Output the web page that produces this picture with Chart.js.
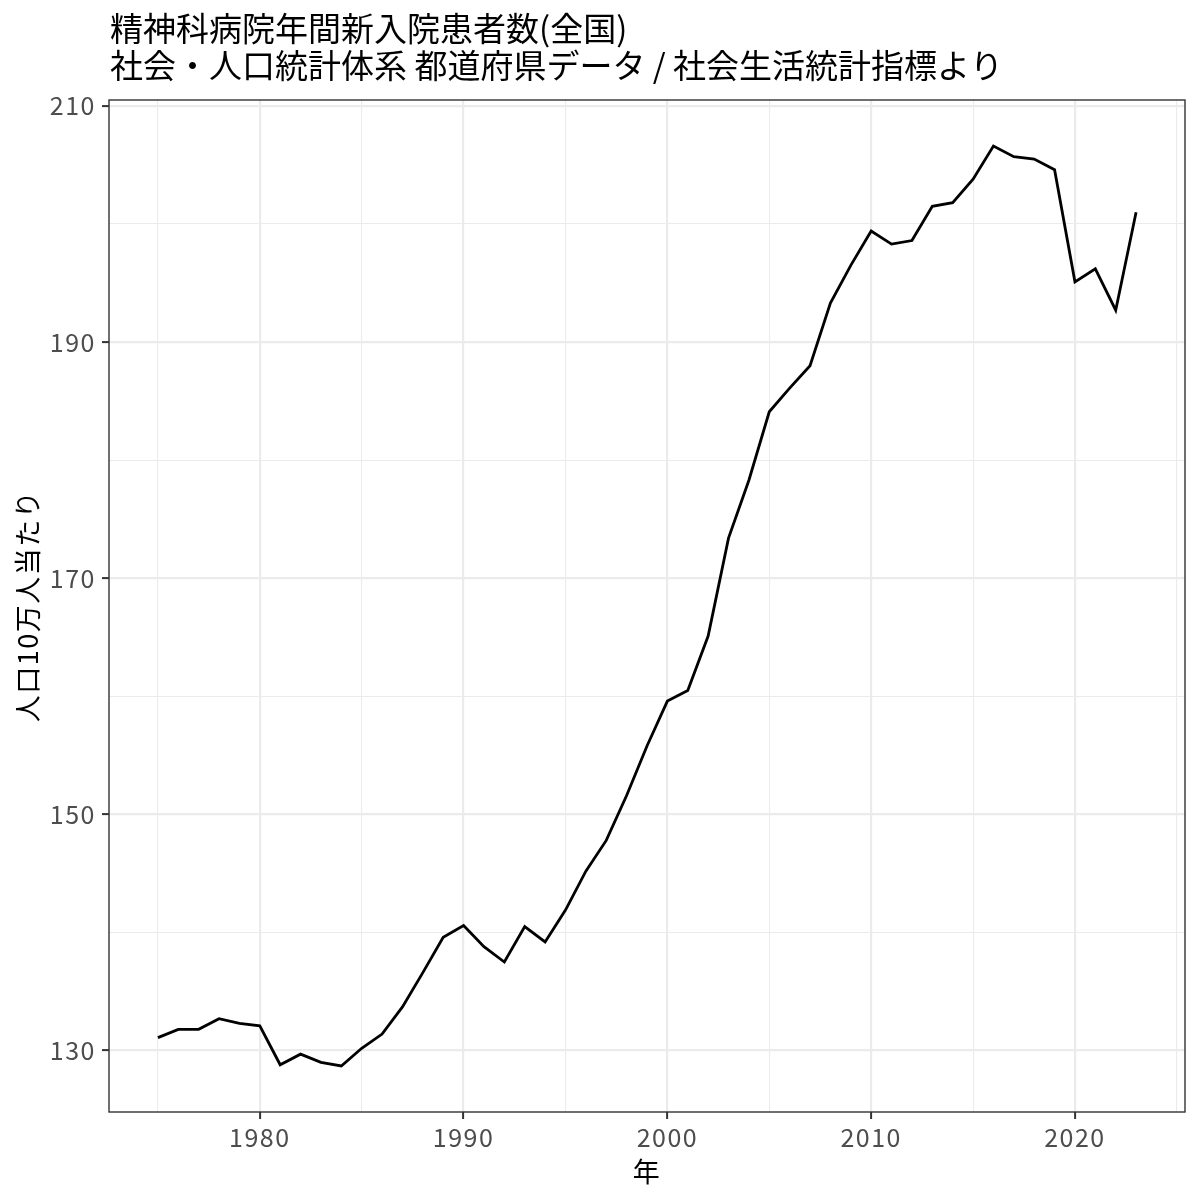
<!DOCTYPE html>
<html>
<head>
<meta charset="utf-8">
<script src="https://cdn.jsdelivr.net/npm/chart.js@4"></script>
<style>
html,body{margin:0;padding:0;background:#fff;}
#wrap{width:1200px;height:1200px;}
</style>
</head>
<body>
<div id="wrap"><canvas id="c" width="1200" height="1200"></canvas></div>
<script>
const years = [1975,1976,1977,1978,1979,1980,1981,1982,1983,1984,1985,1986,1987,1988,1989,1990,1991,1992,1993,1994,1995,1996,1997,1998,1999,2000,2001,2002,2003,2004,2005,2006,2007,2008,2009,2010,2011,2012,2013,2014,2015,2016,2017,2018,2019,2020,2021,2022,2023];
const values = [131.1,131.8,131.8,132.7,132.3,132.1,128.8,129.7,129.0,128.7,130.2,131.4,133.7,136.6,139.6,140.6,138.8,137.5,140.5,139.2,141.9,145.2,147.8,151.6,155.8,159.6,160.5,165.1,173.4,178.3,184.1,186.1,188.0,193.3,196.5,199.4,198.3,198.6,201.5,201.8,203.8,206.6,205.7,205.5,204.6,195.1,196.2,192.7,201.0];
const xTicks = [1975,1980,1985,1990,1995,2000,2005,2010,2015,2020,2025];
const xLabels = [1980,1990,2000,2010,2020];
const yTicks = [130,140,150,160,170,180,190,200,210];
const yLabels = [130,150,170,190,210];
const titleLines = ['精神科病院年間新入院患者数(全国)','社会・人口統計体系 都道府県データ / 社会生活統計指標より'];
const xTitle = '年';
const yTitle = '人口10万人当たり';

const FONT = "'Noto Sans CJK JP', 'Noto Sans', sans-serif";

const framePlugin = {
  id: 'frame',
  beforeDraw(chart) {
    chart.ctx.letterSpacing = '1.5px';
  },
  afterDraw(chart) {
    const {ctx, chartArea: a} = chart;
    ctx.save();
    ctx.letterSpacing = '0px';
    ctx.strokeStyle = '#333333';
    ctx.lineWidth = 1.4;
    ctx.strokeRect(a.left, a.top, a.right - a.left, a.bottom - a.top);
    ctx.fillStyle = '#000000';
    ctx.font = '33px ' + FONT;
    ctx.textBaseline = 'middle';
    ctx.textAlign = 'left';
    ctx.fillText(titleLines[0], a.left + 1, 28);
    ctx.fillText(titleLines[1], a.left + 1, 65);
    ctx.restore();
  }
};

const isMajorX = v => xLabels.includes(v);
const isMajorY = v => yLabels.includes(v);

new Chart(document.getElementById('c'), {
  type: 'line',
  data: {
    datasets: [{
      data: years.map((y, i) => ({x: y, y: values[i]})),
      borderColor: '#000000',
      borderWidth: 2.8,
      pointRadius: 0,
      tension: 0,
      fill: false
    }]
  },
  options: {
    responsive: false,
    animation: false,
    devicePixelRatio: 1,
    layout: {padding: {top: 100, right: 15, left: 0, bottom: 0}},
    plugins: {legend: {display: false}, tooltip: {enabled: false}, title: {display: false}},
    scales: {
      x: {
        type: 'linear',
        min: 1972.6,
        max: 2025.4,
        afterBuildTicks(scale) { scale.ticks = xTicks.map(v => ({value: v})); },
        afterFit(scale) { scale.height = 88; },
        border: {display: false},
        grid: {
          color: ctx => '#EBEBEB',
          lineWidth: ctx => (ctx.tick && isMajorX(ctx.tick.value)) ? 2.2 : 1.1,
          tickColor: ctx => (ctx.tick && isMajorX(ctx.tick.value)) ? '#333333' : 'rgba(0,0,0,0)',
          tickWidth: 2,
          tickLength: 7,
          drawTicks: true
        },
        ticks: {
          autoSkip: false,
          maxRotation: 0,
          padding: 3,
          color: '#4D4D4D',
          font: {family: FONT, size: 25},
          callback: v => isMajorX(v) ? String(v) : ''
        },
        title: {
          display: true,
          text: xTitle,
          color: '#000000',
          font: {family: FONT, size: 27},
          padding: {top: 0, bottom: 12}
        }
      },
      y: {
        type: 'linear',
        min: 124.8,
        max: 210.5,
        afterBuildTicks(scale) { scale.ticks = yTicks.map(v => ({value: v})); },
        afterFit(scale) { scale.width = 109; },
        border: {display: false},
        grid: {
          color: ctx => '#EBEBEB',
          lineWidth: ctx => (ctx.tick && isMajorY(ctx.tick.value)) ? 2.2 : 1.1,
          tickColor: ctx => (ctx.tick && isMajorY(ctx.tick.value)) ? '#333333' : 'rgba(0,0,0,0)',
          tickWidth: 2,
          tickLength: 7,
          drawTicks: true
        },
        ticks: {
          autoSkip: false,
          padding: 6,
          color: '#4D4D4D',
          font: {family: FONT, size: 25},
          callback: v => isMajorY(v) ? String(v) : ''
        },
        title: {
          display: true,
          text: yTitle,
          color: '#000000',
          font: {family: FONT, size: 27},
          padding: {top: 12, bottom: 0}
        }
      }
    }
  },
  plugins: [framePlugin]
});
</script>
</body>
</html>
